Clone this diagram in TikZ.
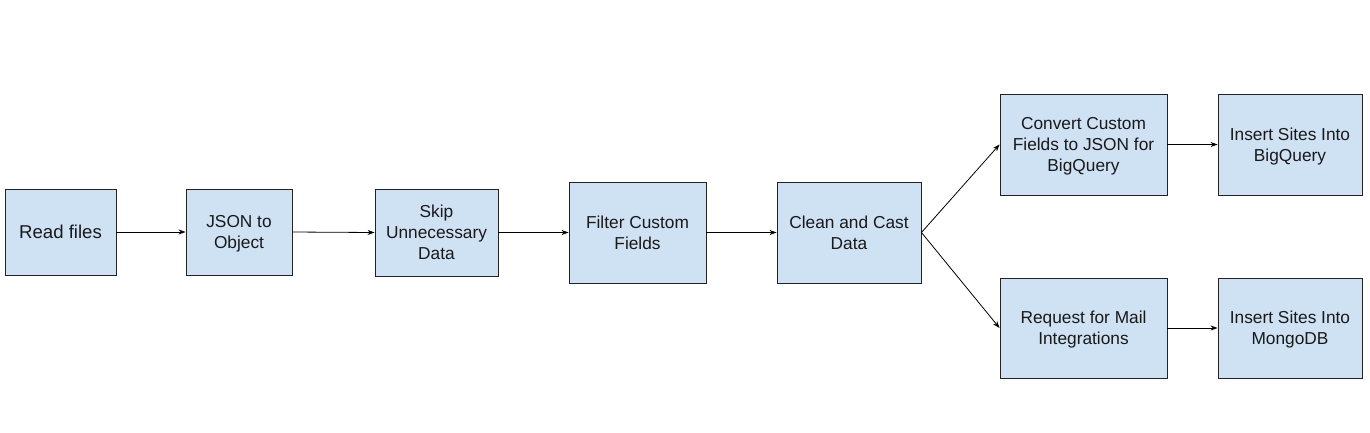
\documentclass[tikz,border=0pt]{standalone}
\usepackage{fontspec}
\setmainfont{Liberation Sans}
\usetikzlibrary{arrows.meta}
\definecolor{boxfill}{HTML}{CFE2F3}
\definecolor{boxline}{HTML}{222222}
\tikzset{
  box/.style={draw=boxline, fill=boxfill, line width=0.9pt, inner sep=2pt, align=center,
    font=\fontsize{17.3}{21}\selectfont, text=black!90, text depth=0pt},
  conn/.style={draw=black, line width=0.8pt, -{Stealth[length=7pt,width=5pt]}}
}
\begin{document}
\begin{tikzpicture}[x=1pt,y=-1pt]
\useasboundingbox (0,0) rectangle (1370,432);
\node[box, minimum width=111pt, minimum height=86pt, font=\fontsize{18.6}{21}\selectfont] (read) at (60.5,232) {Read files};
\node[box, minimum width=106pt, minimum height=86pt] (json) at (239,232) {JSON to\\Object};
\node[box, minimum width=123pt, minimum height=87pt] (skip) at (436.5,232.5) {Skip\\Unnecessary\\Data};
\node[box, minimum width=137pt, minimum height=101pt] (filter) at (637.5,232.5) {Filter Custom\\Fields};
\node[box, minimum width=144pt, minimum height=101pt] (clean) at (849,232.5) {Clean and Cast\\Data};
\node[box, minimum width=167pt, minimum height=101pt] (convert) at (1083.5,144.5) {Convert Custom\\Fields to JSON for\\BigQuery};
\node[box, minimum width=144pt, minimum height=101pt] (bq) at (1290,144.5) {Insert Sites Into\\BigQuery};
\node[box, minimum width=167pt, minimum height=100pt] (mail) at (1083.5,328) {Request for Mail\\Integrations};
\node[box, minimum width=144pt, minimum height=100pt] (mongo) at (1290,328) {Insert Sites Into\\MongoDB};
\draw[conn] (read.east) -- (json.west);
\draw[conn] (json.east) -- (skip.west);
\draw[conn] (skip.east) -- (filter.west);
\draw[conn] (filter.east) -- (clean.west);
\draw[conn] (clean.east) -- (convert.west);
\draw[conn] (clean.east) -- (mail.west);
\draw[conn] (convert.east) -- (bq.west);
\draw[conn] (mail.east) -- (mongo.west);
\end{tikzpicture}
\end{document}
